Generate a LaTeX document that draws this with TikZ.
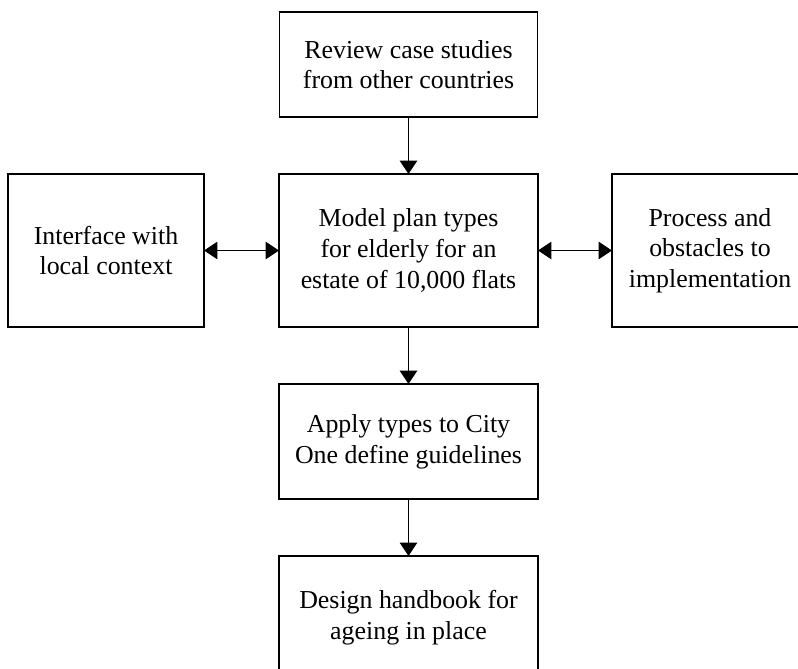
\documentclass[tikz,border=0pt]{standalone}
\usepackage{fontspec}
\setmainfont{Liberation Serif}
\usetikzlibrary{arrows.meta}
\begin{document}
\begin{tikzpicture}[x=0.75pt,y=-0.75pt,
  box/.style={draw=black,line width=0.8pt,outer sep=0pt,inner sep=0pt,align=center,
    font=\fontsize{19.4}{23}\selectfont},
  conn/.style={line width=0.9pt,-{Triangle[length=10pt,width=13pt]}},
  dconn/.style={line width=0.9pt,{Triangle[length=10pt,width=13pt]}-{Triangle[length=10pt,width=13pt]}}]
\useasboundingbox (0,0) rectangle (798,668);
\node[box,minimum width=193.5pt,minimum height=78.75pt] (review) at (408.5,64.5) {Review case studies\\from other countries};
\node[box,minimum width=194.25pt,minimum height=114.75pt] (model) at (408.5,250.5) {Model plan types\\for elderly for an\\estate of 10,000 flats};
\node[box,minimum width=147pt,minimum height=114.75pt] (local) at (106,250.5) {Interface with\\local context};
\node[box,minimum width=147pt,minimum height=114.75pt] (process) at (710,250.5) {Process and\\obstacles to\\implementation};
\node[box,minimum width=194.25pt,minimum height=86.25pt] (apply) at (408.5,441.5) {Apply types to City\\One define guidelines};
\node[box,minimum width=194.25pt,minimum height=93pt] (design) at (408.5,618) {Design handbook for\\ageing in place};
\draw[conn] (review) -- (model);
\draw[conn] (model) -- (apply);
\draw[conn] (apply) -- (design);
\draw[dconn] (local) -- (model);
\draw[dconn] (model) -- (process);
\end{tikzpicture}
\end{document}
